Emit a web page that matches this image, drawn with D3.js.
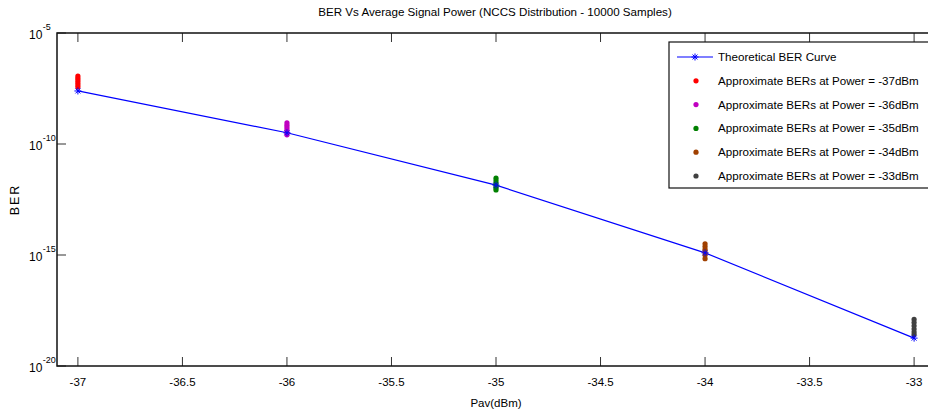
<!DOCTYPE html>
<html>
<head>
<meta charset="utf-8">
<script src="https://cdn.jsdelivr.net/npm/d3@7"></script>
<style>
  body { margin: 0; background: #fff; }
  svg { font-family: "Liberation Sans", Arial, sans-serif; display: block; }
</style>
</head>
<body>
<div id="chart"></div>
<script>
// data
var powers = [-37, -36, -35, -34, -33];
var theoryBER = [2.45e-8, 3.2e-10, 1.4e-12, 1.25e-15, 1.8e-19];

var ber37 = [1.15e-7, 9.2e-8, 7.3e-8, 5.8e-8, 4.6e-8, 3.7e-8];
var ber36 = [8.9e-10, 7.0e-10, 5.5e-10, 4.3e-10, 3.3e-10, 2.6e-10];
var ber35 = [2.9e-12, 2.2e-12, 1.7e-12, 1.3e-12, 1.05e-12, 8.5e-13];
var ber34 = [3.2e-15, 2.4e-15, 1.8e-15, 1.35e-15, 1.0e-15, 6.8e-16];
var ber33 = [1.25e-18, 9.0e-19, 6.5e-19, 4.6e-19, 3.4e-19, 2.6e-19];

var approxSeries = [ber37, ber36, ber35, ber34, ber33];
var approxColors = ["#ff0000", "#c000c0", "#008000", "#a04000", "#404040"];
var legendLabels = ["Theoretical BER Curve",
  "Approximate BERs at Power = -37dBm",
  "Approximate BERs at Power = -36dBm",
  "Approximate BERs at Power = -35dBm",
  "Approximate BERs at Power = -34dBm",
  "Approximate BERs at Power = -33dBm"];

var xTicks = [-37, -36.5, -36, -35.5, -35, -34.5, -34, -33.5, -33];
var yTicks = [1e-5, 1e-10, 1e-15, 1e-20];

var W = 928, H = 412;
var margin = {top: 33, left: 57, bottom: 46, right: -7};  // box runs past the right edge
var width = W - margin.left - margin.right,
    height = H - margin.top - margin.bottom;

var svg = d3.select("#chart").append("svg")
    .attr("width", W).attr("height", H);

var g = svg.append("g")
    .attr("transform", "translate(" + margin.left + "," + margin.top + ")");

var x = d3.scaleLinear().domain([-37.1, -32.9]).range([0, width]);
var y = d3.scaleLog().domain([1e-20, 1e-5]).range([height, 0]);

// ticks, drawn inward like matlab
var tickLen = 9;
g.append("g").selectAll("line").data(xTicks).enter().append("line")
    .attr("x1", function(d) { return x(d); }).attr("x2", function(d) { return x(d); })
    .attr("y1", height).attr("y2", height - tickLen)
    .attr("stroke", "#333").attr("stroke-width", 1);
g.append("g").selectAll("line").data(xTicks).enter().append("line")
    .attr("x1", function(d) { return x(d); }).attr("x2", function(d) { return x(d); })
    .attr("y1", 0).attr("y2", tickLen)
    .attr("stroke", "#333").attr("stroke-width", 1);
g.append("g").selectAll("line").data(yTicks).enter().append("line")
    .attr("x1", 0).attr("x2", tickLen)
    .attr("y1", function(d) { return y(d); }).attr("y2", function(d) { return y(d); })
    .attr("stroke", "#333").attr("stroke-width", 1);

// axes box
g.append("rect")
    .attr("width", width).attr("height", height)
    .attr("fill", "none").attr("stroke", "#111").attr("stroke-width", 1.5);

// x tick labels
g.append("g").selectAll("text").data(xTicks).enter().append("text")
    .attr("x", function(d) { return x(d); })
    .attr("y", height + 20)
    .attr("text-anchor", "middle")
    .attr("font-size", "11.5px")
    .text(function(d) { return d; });

// y tick labels 10^n
var yl = g.append("g").selectAll("text").data(yTicks).enter().append("text")
    .attr("x", -28)
    .attr("y", function(d) { return y(d) + 6; })
    .attr("font-size", "12px");
yl.append("tspan").text("10");
yl.append("tspan")
    .attr("dy", -9).attr("dx", 0.5)
    .attr("font-size", "9px")
    .text(function(d) { return Math.round(Math.log10(d)); });

// theoretical curve
var theory = powers.map(function(p, i) { return {p: p, v: theoryBER[i]}; });
var line = d3.line()
    .x(function(d) { return x(d.p); })
    .y(function(d) { return y(d.v); });

g.append("path")
    .datum(theory)
    .attr("d", line)
    .attr("fill", "none")
    .attr("stroke", "#0000ff")
    .attr("stroke-width", 1.2);

function starPath(s) {
  var d = s * 0.7;
  return "M" + (-s) + ",0H" + s + "M0," + (-s) + "V" + s +
    "M" + (-d) + "," + (-d) + "L" + d + "," + d + "M" + (-d) + "," + d + "L" + d + "," + (-d);
}

// approximate BER clusters
approxSeries.forEach(function(vals, i) {
  g.append("g").selectAll("circle").data(vals).enter().append("circle")
      .attr("cx", x(powers[i]))
      .attr("cy", function(d) { return y(d); })
      .attr("r", 2.6)
      .attr("fill", approxColors[i]);
});

g.append("g").selectAll("path").data(theory).enter().append("path")
    .attr("transform", function(d) { return "translate(" + x(d.p) + "," + y(d.v) + ")"; })
    .attr("d", starPath(3.5))
    .attr("stroke", "#0000ff").attr("stroke-width", 1).attr("fill", "none");

// title and labels
svg.append("text")
    .attr("x", margin.left + x(-35) - 1)
    .attr("y", 16)
    .attr("text-anchor", "middle")
    .attr("font-size", "11.6px")
    .text("BER Vs Average Signal Power (NCCS Distribution - 10000 Samples)");

svg.append("text")
    .attr("x", margin.left + x(-35))
    .attr("y", 407)
    .attr("text-anchor", "middle")
    .attr("font-size", "11.5px")
    .text("Pav(dBm)");

svg.append("text")
    .attr("transform", "translate(19," + (margin.top + height / 2) + ")rotate(-90)")
    .attr("text-anchor", "middle")
    .attr("font-size", "12.5px")
    .attr("letter-spacing", "2px")
    .text("BER");

// legend
var lg = svg.append("g").attr("transform", "translate(669,42)");
lg.append("rect")
    .attr("width", 268).attr("height", 146)
    .attr("fill", "#fff").attr("stroke", "#111").attr("stroke-width", 1.2);

var rows = lg.selectAll("g.row").data(legendLabels).enter().append("g")
    .attr("class", "row")
    .attr("transform", function(d, i) { return "translate(0," + (15 + i * 23.8) + ")"; });

rows.append("text")
    .attr("x", 49).attr("y", 4)
    .attr("font-size", "11.6px")
    .text(function(d) { return d; });

var first = rows.filter(function(d, i) { return i === 0; });
first.append("line")
    .attr("x1", 8).attr("x2", 44).attr("y1", 0).attr("y2", 0)
    .attr("stroke", "#0000ff").attr("stroke-width", 1.2);
first.append("path")
    .attr("transform", "translate(26,0)")
    .attr("d", starPath(3.5))
    .attr("stroke", "#0000ff").attr("fill", "none");

rows.filter(function(d, i) { return i > 0; }).append("circle")
    .attr("cx", 27).attr("cy", 0).attr("r", 2.6)
    .attr("fill", function(d, i) { return approxColors[i]; });
</script>
</body>
</html>
